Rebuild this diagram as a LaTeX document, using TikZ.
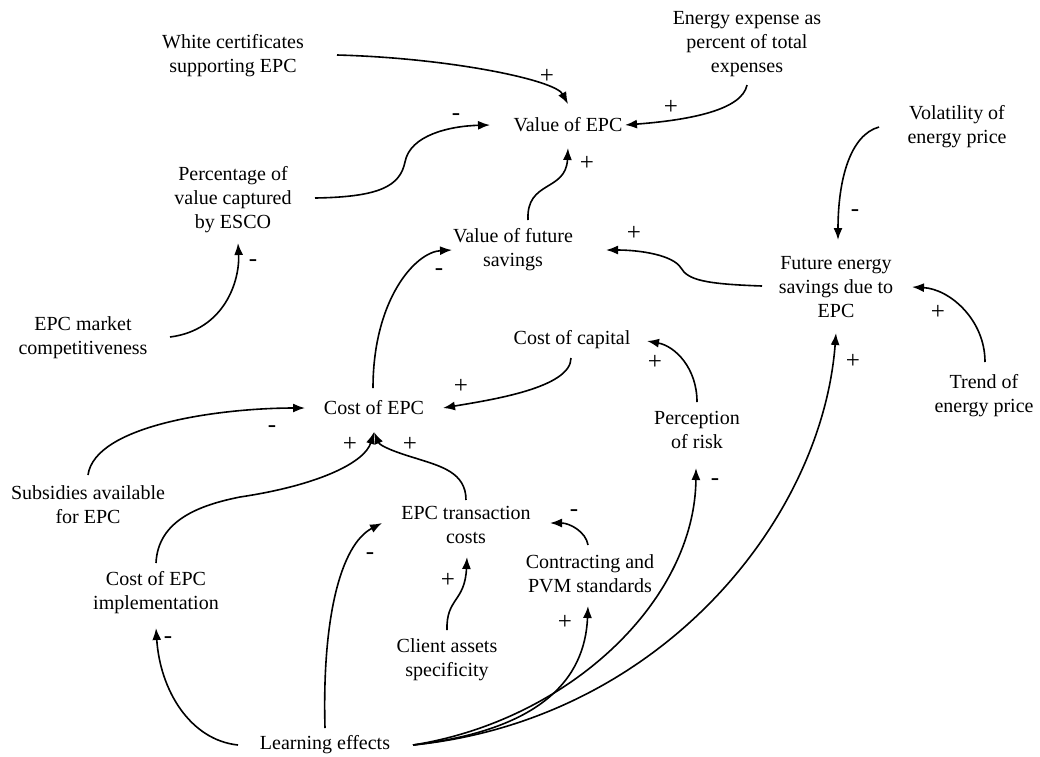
\documentclass[tikz,border=0pt]{standalone}
\usepackage{fontspec}
\setmainfont{Liberation Serif}
\newfontfamily\diagfont{Liberation Serif}
\usetikzlibrary{arrows.meta,calc}
\begin{document}
\begin{tikzpicture}[x=1pt,y=-1pt,
  var/.style={align=center, inner sep=0pt, font=\diagfont\fontsize{20}{24}\selectfont},
  sgn/.style={inner sep=0pt, font=\diagfont\fontsize{25}{26}\selectfont},
  link/.style={line width=1.6pt, -{Latex[length=12pt,width=9pt]}}]
\fill[white] (0,0) rectangle (1040,756);
\useasboundingbox (0,0) rectangle (1040,756);

% variables
\node[var] (white)   at (233,56)  {White certificates\\supporting EPC};
\node[var] (energy)  at (747,44)  {Energy expense as\\percent of total\\expenses};
\node[var] (value)   at (568,125) {Value of EPC};
\node[var] (vol)     at (957,127) {Volatility of\\energy price};
\node[var] (pct)     at (233,200) {Percentage of\\value captured\\by ESCO};
\node[var] (vfs)     at (513,250) {Value of future\\savings};
\node[var] (fes)     at (836,287) {Future energy\\savings due to\\EPC};
\node[var] (mkt)     at (83,338)  {EPC market\\competitiveness};
\node[var] (capital) at (572,340) {Cost of capital};
\node[var] (cost)    at (374,408) {Cost of EPC};
\node[var] (risk)    at (697,430) {Perception\\of risk};
\node[var] (trend)   at (984,396) {Trend of\\energy price};
\node[var] (subs)    at (88,505)  {Subsidies available\\for EPC};
\node[var] (trans)   at (466,525) {EPC transaction\\costs};
\node[var] (contr)   at (590,574) {Contracting and\\PVM standards};
\node[var] (impl)    at (156,593) {Cost of EPC\\implementation};
\node[var] (client)  at (447,660) {Client assets\\specificity};
\node[var] (learn)   at (325,745) {Learning effects};

% causal links
\draw[link] ($(white)+(104,-1)$) .. controls (450,58) and (555,80) .. ($(value)+(0,-21)$);
\draw[link] ($(pct)+(82,-2)$) .. controls (380,197) and (400,186) .. (405,162)
            .. controls (410,135) and (450,126) .. ($(value)+(-78,0)$);
\draw[link] ($(energy)+(0,41)$) .. controls (742,110) and (690,120) .. ($(value)+(57,0)$);
\draw[link] ($(vfs)+(15,-30)$) .. controls (526,180) and (566,192) .. ($(value)+(0,23)$);
\draw[link] ($(vol)+(-78,0)$) .. controls (850,135) and (838,180) .. ($(fes)+(2,-47)$);
\draw[link] ($(fes)+(-74,-1)$) .. controls (705,284) and (688,280) .. (681,268)
            .. controls (673,255) and (640,250) .. ($(vfs)+(93,0)$);
\draw[link] ($(trend)+(1,-34)$) .. controls (985,320) and (950,289) .. ($(fes)+(76,0)$);
\draw[link] ($(mkt)+(87,-1)$) .. controls (225,330) and (240,280) .. ($(pct)+(5,43)$);
\draw[link] ($(cost)+(-1,-20)$) .. controls (373,300) and (415,252) .. ($(vfs)+(-61,0)$);
\draw[link] ($(capital)+(-1,18)$) .. controls (571,388) and (490,400) .. ($(cost)+(69,0)$);
\draw[link] ($(risk)+(0,-28)$) .. controls (697,368) and (675,346) .. ($(capital)+(75,1)$);
\draw[link] ($(subs)+(0,-30)$) .. controls (95,425) and (220,408) .. ($(cost)+(-69,0)$);
\draw[link] ($(impl)+(0,-30)$) .. controls (158,520) and (200,505) .. (240,497)
            .. controls (320,485) and (365,462) .. ($(cost)+(0,24)$);
\draw[link] ($(trans)+(0,-25)$) .. controls (466,472) and (440,466) .. (415,458)
            .. controls (395,452) and (380,446) .. ($(cost)+(0,24)$);
\draw[link] ($(learn)+(0,-17)$) .. controls (322,620) and (340,545) .. ($(trans)+(-84,-2)$);
\draw[link] ($(client)+(0,-30)$) .. controls (446,598) and (465,602) .. ($(trans)+(1,32)$);
\draw[link] ($(contr)+(-2,-29)$) .. controls (586,532) and (570,523) .. ($(trans)+(84,-2)$);
\draw[link] ($(learn)+(-87,0)$) .. controls (190,740) and (160,690) .. ($(impl)+(0,35)$);
\draw[link] ($(learn)+(88,0)$) .. controls (540,730) and (585,680) .. ($(contr)+(-2,32)$);
\draw[link] ($(learn)+(88,0)$) .. controls (570,720) and (695,600) .. ($(risk)+(-1,38)$);
\draw[link] ($(learn)+(88,0)$) .. controls (660,720) and (822,520) .. ($(fes)+(0,46)$);

% link polarities
\node[sgn] (s1)  at (547,76)  {+};
\node[sgn] (s2)  at (456,117) {-};
\node[sgn] (s3)  at (671,107) {+};
\node[sgn] (s4)  at (587,163) {+};
\node[sgn] (s5)  at (855,213) {-};
\node[sgn] (s6)  at (634,233) {+};
\node[sgn] (s7)  at (938,312) {+};
\node[sgn] (s8)  at (253,263) {-};
\node[sgn] (s9)  at (439,272) {-};
\node[sgn] (s10) at (461,386) {+};
\node[sgn] (s11) at (655,362) {+};
\node[sgn] (s12) at (272,429) {-};
\node[sgn] (s13) at (350,444) {+};
\node[sgn] (s14) at (410,444) {+};
\node[sgn] (s15) at (370,556) {-};
\node[sgn] (s16) at (448,580) {+};
\node[sgn] (s17) at (574,513) {-};
\node[sgn] (s18) at (168,640) {-};
\node[sgn] (s19) at (565,622) {+};
\node[sgn] (s20) at (715,482) {-};
\node[sgn] (s21) at (853,361) {+};
\end{tikzpicture}
\end{document}
